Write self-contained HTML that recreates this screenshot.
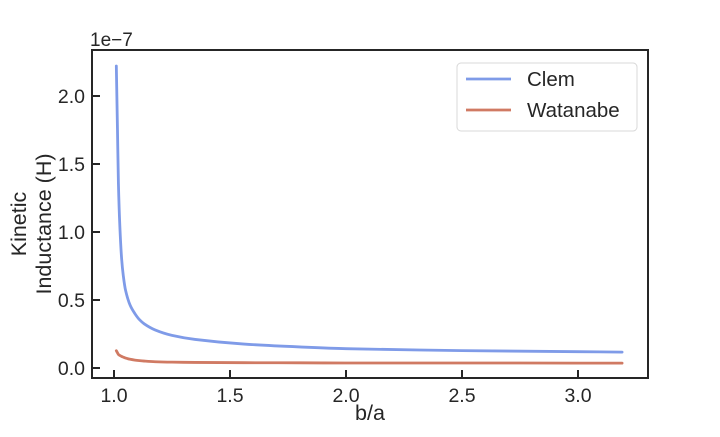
<!DOCTYPE html>
<html><head><meta charset="utf-8"><style>
body{margin:0;background:#fff;width:720px;height:432px;overflow:hidden}
text{font-family:"Liberation Sans","DejaVu Sans",sans-serif;fill:#262626}
</style></head><body>
<svg id="chart" width="720" height="432" viewBox="0 0 720 432">
<rect x="0" y="0" width="720" height="432" fill="#fff"/>
<g id="g"></g>
</svg>
<script>
const xTicks=[1.0,1.5,2.0,2.5,3.0];
const xTickLabels=["1.0","1.5","2.0","2.5","3.0"];
const yTicks=[0.0,0.5,1.0,1.5,2.0];
const yTickLabels=["0.0","0.5","1.0","1.5","2.0"];
const bOverA=[1.01,1.015,1.019,1.025,1.033,1.04,1.05,1.07,1.09,1.11,1.13,1.177,1.25,1.35,1.56,1.8,2.0,2.5,3.0,3.19];
const clem=[2.22,1.75,1.36,1.05,0.80,0.68,0.57,0.46,0.40,0.355,0.325,0.28,0.24,0.21,0.176,0.155,0.142,0.128,0.12,0.117];
const watanabe=[0.127,0.112,0.1,0.092,0.085,0.08,0.073,0.064,0.058,0.054,0.051,0.046,0.043,0.041,0.039,0.038,0.037,0.037,0.036,0.036];
const L=92,R=648,T=50,B=378;
const sx=v=>114+(v-1)*232;
const sy=v=>368-v*136;
const NS="http://www.w3.org/2000/svg";
const g=document.getElementById('g');
function mk(t,a,txt){const e=document.createElementNS(NS,t);for(const k in a)e.setAttribute(k,a[k]);if(txt!==undefined)e.textContent=txt;g.appendChild(e);return e;}
function smooth(P){
 const n=P.length,m=[];const d=[];
 for(let i=0;i<n-1;i++)d.push((P[i+1][1]-P[i][1])/(P[i+1][0]-P[i][0]));
 m[0]=d[0];m[n-1]=d[n-2];
 for(let i=1;i<n-1;i++)m[i]=(d[i-1]*d[i]<=0)?0:2/(1/d[i-1]+1/d[i]);
 let s='M'+P[0][0].toFixed(2)+','+P[0][1].toFixed(2);
 for(let i=0;i<n-1;i++){const h=P[i+1][0]-P[i][0];
  s+='C'+(P[i][0]+h/3).toFixed(2)+','+(P[i][1]+m[i]*h/3).toFixed(2)+' '+(P[i+1][0]-h/3).toFixed(2)+','+(P[i+1][1]-m[i+1]*h/3).toFixed(2)+' '+P[i+1][0].toFixed(2)+','+P[i+1][1].toFixed(2);}
 return s;
}
function path(xs,ys,color,name){
 const P=xs.map((x,i)=>[sx(x),sy(ys[i])]);
 const p=mk('path',{d:smooth(P),fill:'none',stroke:color,'stroke-width':2.8,'stroke-linejoin':'round','stroke-linecap':'round'});
 
 
}
path(bOverA,clem,'#7f9be8','clem-line');
path(bOverA,watanabe,'#d07a63','watanabe-line');
const frame=mk('rect',{x:L,y:T,width:R-L,height:B-T,fill:'none',stroke:'#262626','stroke-width':2});


xTicks.forEach((v,i)=>{
 const x=sx(v);
 mk('line',{x1:x,x2:x,y1:B,y2:B-8,stroke:'#262626','stroke-width':2});
 const t=mk('text',{x:x,y:B+24,'text-anchor':'middle','font-size':19.5},xTickLabels[i]);
 
 
});
yTicks.forEach((v,i)=>{
 const y=sy(v);
 mk('line',{x1:L,x2:L+8,y1:y,y2:y,stroke:'#262626','stroke-width':2});
 const t=mk('text',{x:L-7,y:y+7,'text-anchor':'end','font-size':19.5},yTickLabels[i]);
 
 
});
const off=mk('text',{x:90,y:46,'font-size':19},'1e\u22127');


const xt=mk('text',{x:370,y:420,'text-anchor':'middle','font-size':21.5},'b/a');


const yt=mk('text',{transform:'translate(30,224) rotate(-90)','text-anchor':'middle','font-size':21.5});


const s1=document.createElementNS(NS,'tspan');s1.setAttribute('x',0);s1.setAttribute('dy',-4);s1.textContent='Kinetic';yt.appendChild(s1);
const s2=document.createElementNS(NS,'tspan');s2.setAttribute('x',0);s2.setAttribute('dy',25);s2.textContent='Inductance (H)';yt.appendChild(s2);
const lg=mk('rect',{x:457,y:63,width:180,height:68,rx:4,fill:'#fff',stroke:'#d8d8d8','stroke-width':1});


[['Clem','#7f9be8',79],['Watanabe','#d07a63',110]].forEach(([n,c,y])=>{
 mk('line',{x1:466,x2:511,y1:y,y2:y,stroke:c,'stroke-width':2.8});
 const t=mk('text',{x:527,y:y+7,'font-size':20.5},n);
 
 
});
</script>
</body></html>
